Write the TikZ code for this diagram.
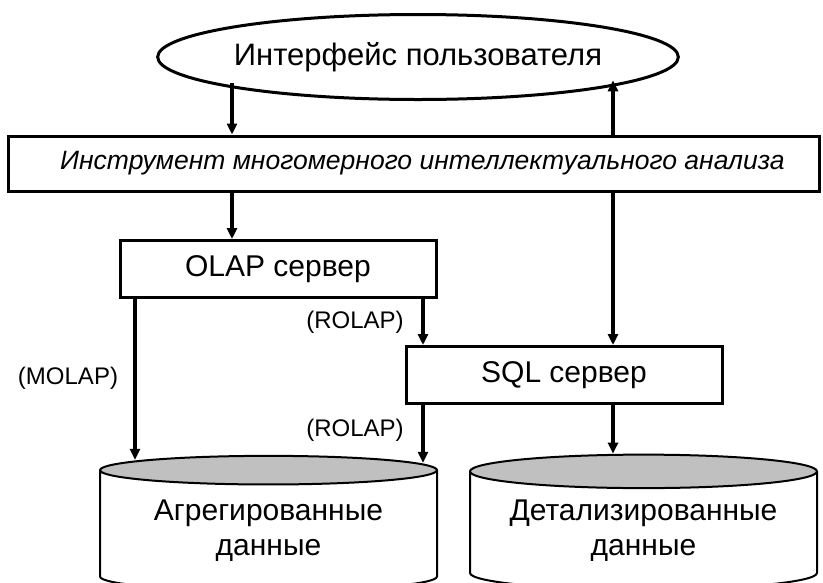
\documentclass[tikz,border=0pt]{standalone}
\usepackage{fontspec}
\setmainfont{Liberation Sans}
\usetikzlibrary{positioning,arrows.meta,shapes.geometric,calc}
\definecolor{dbtop}{RGB}{192,192,192}

\begin{document}
\begin{tikzpicture}[x=1pt,y=-1pt,
  iface/.style={ellipse,draw,line width=3pt,inner sep=0pt,
        minimum width=436pt,minimum height=85pt,font=\fontsize{31}{34}\selectfont},
  toolbox/.style={rectangle,draw,line width=3pt,inner sep=0pt,
        minimum width=811pt,minimum height=55pt,font=\fontsize{26.5}{30}\selectfont\itshape},
  server/.style={rectangle,draw,line width=3pt,inner sep=0pt,
        minimum width=316pt,minimum height=57pt,font=\fontsize{30}{34}\selectfont},
  db/.style={cylinder,shape border rotate=90,draw,line width=2pt,aspect=0.125,
        cylinder uses custom fill,cylinder end fill=dbtop,cylinder body fill=white,
        inner sep=0pt,minimum height=135pt,align=center,font=\fontsize{30}{35}\selectfont},
  mode/.style={font=\fontsize{24}{28}\selectfont},
  arrow/.style={-{Triangle[length=11pt,width=10pt]},line width=3.5pt}
]
\useasboundingbox (0,0) rectangle (823,582);
\clip (0,0) rectangle (823,582);
\node[iface] (ui) at (418,57) {Интерфейс пользователя};
\node[toolbox] (tool) at (413.5,163.5) {\hspace*{18pt}Инструмент многомерного интеллектуального анализа};
\node[server] (olap) at (278,269) {OLAP сервер};
\node[server] (sql) at (564,375) {SQL сервер};
\node[db,minimum width=337pt] (agg) at (268.5,531) {Агрегированные\\данные};
\node[db,minimum width=347pt] (det) at (643.5,531) {Детализированные\\данные};
\node[mode] (molap) at (68,378) {(MOLAP)};
\node[mode] (rolap1) at (355,322) {(ROLAP)};
\node[mode] (rolap2) at (355,430) {(ROLAP)};
% x positions of the vertical links
\coordinate (xl) at (232,0);
\coordinate (xr) at (613,0);
\coordinate (xm) at (135,0);
\coordinate (xo) at (423,0);
\draw[arrow] (xl |- ui.187) -- (xl |- tool.north);
\draw[arrow] (xl |- tool.south) -- (xl |- olap.north);
\draw[arrow] (xr |- tool.north) -- (xr |- ui.354);
\draw[arrow] (xr |- tool.south) -- (xr |- sql.north);
\draw[arrow] (xm |- olap.south) -- ($(xm |- agg.north)+(0,5)$);
\draw[arrow] (xo |- olap.south) -- (xo |- sql.north);
\draw[arrow] (xo |- sql.south) -- ($(xo |- agg.north)+(0,8)$);
\draw[arrow] (xr |- sql.south) -- (xr |- det.north);
\end{tikzpicture}
\end{document}
